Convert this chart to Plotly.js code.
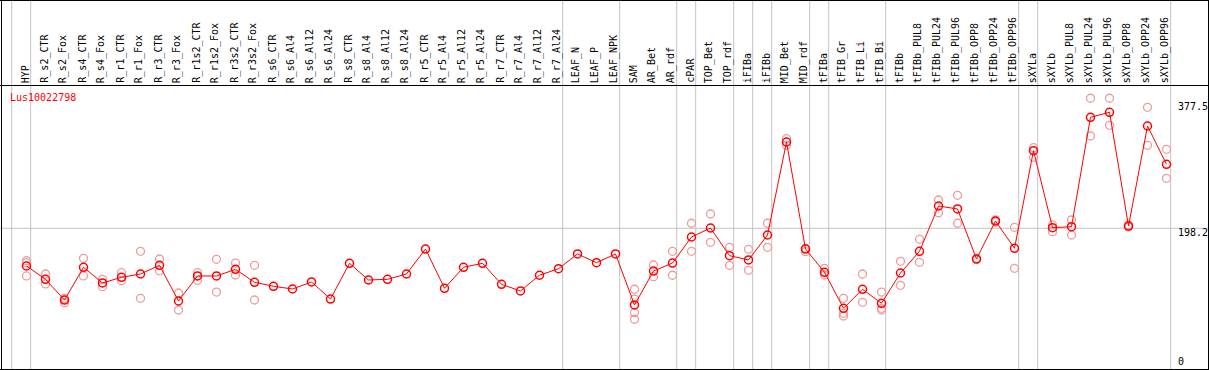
<!DOCTYPE html>
<html>
<head>
<meta charset="utf-8">
<script src="https://cdn.plot.ly/plotly-3.0.1.min.js"></script>
<style>html,body{margin:0;padding:0;background:#fff;}#chart{width:1209px;height:370px;}</style>
</head>
<body>
<div id="chart"></div>
<script>
const categories = ["HYP","R_s2_CTR","R_s2_Fox","R_s4_CTR","R_s4_Fox","R_r1_CTR","R_r1_Fox","R_r3_CTR","R_r3_Fox","R_r1s2_CTR","R_r1s2_Fox","R_r3s2_CTR","R_r3s2_Fox","R_s6_CTR","R_s6_Al4","R_s6_Al12","R_s6_Al24","R_s8_CTR","R_s8_Al4","R_s8_Al12","R_s8_Al24","R_r5_CTR","R_r5_Al4","R_r5_Al12","R_r5_Al24","R_r7_CTR","R_r7_Al4","R_r7_Al12","R_r7_Al24","LEAF_N","LEAF_P","LEAF_NPK","SAM","AR_Bet","AR_rdf","cPAR","TOP_Bet","TOP_rdf","iFIBa","iFIBb","MID_Bet","MID_rdf","tFIBa","tFIB_Gr","tFIB_Li","tFIB_Bi","tFIBb","tFIBb_PUL8","tFIBb_PUL24","tFIBb_PUL96","tFIBb_OPP8","tFIBb_OPP24","tFIBb_OPP96","sXYLa","sXYLb","sXYLb_PUL8","sXYLb_PUL24","sXYLb_PUL96","sXYLb_OPP8","sXYLb_OPP24","sXYLb_OPP96"];

const meanValues = [144.9,126.1,96.8,143.1,120.9,128.9,133.6,145.9,95.4,130.8,130.8,140.2,121.9,116.2,112.4,122.3,98.2,148.7,125.1,126.1,133.6,168.9,113.4,143.1,148.7,119.0,109.6,131.8,141.1,161.9,149.6,161.9,89.8,137.8,149.1,185.9,198.6,159.5,153.4,188.7,320.2,168.9,136.0,85.1,112.0,92.2,135.0,165.7,229.7,225.5,154.8,208.5,169.9,307.9,199.0,200.5,355.1,362.2,201.4,342.8,288.7];

const rep1 = [152.4,133.6,99.2,155.8,126.1,135.4,165.7,154.8,106.7,135.4,154.4,149.1,145.9,null,null,null,null,null,null,null,null,null,null,null,null,null,null,null,null,null,null,null,112.0,146.3,165.7,205.3,218.4,171.3,168.5,205.3,324.9,169.9,141.6,99.2,133.6,108.1,151.5,182.6,238.2,244.8,155.8,209.9,199.6,312.1,202.9,209.9,382.0,382.0,202.9,369.2,309.9];
const rep2 = [149.6,119.5,93.0,130.8,115.6,124.1,99.2,138.3,82.7,124.7,108.1,132.2,96.8,null,null,null,null,null,null,null,null,null,null,null,null,null,null,null,null,null,null,null,98.2,129.8,131.8,165.7,178.4,145.9,138.8,171.3,315.5,165.1,132.2,78.0,93.6,85.1,117.6,150.1,220.2,205.3,153.8,207.1,141.6,298.6,193.4,188.7,328.7,343.8,200.0,315.5,268.9];
const rep3 = [130.8,null,null,null,null,null,null,null,null,null,null,null,null,null,null,null,null,null,null,null,null,null,null,null,null,null,null,null,null,null,null,null,78.9,null,null,null,null,null,null,null,null,null,null,74.2,null,82.7,null,null,null,null,null,null,null,null,null,null,null,null,null,null,null];
const rep4 = [null,null,null,null,null,null,null,null,null,null,null,null,null,null,null,null,null,null,null,null,null,null,null,null,null,null,null,null,null,null,null,null,69.6,null,null,null,null,null,null,null,null,null,null,null,null,null,null,null,null,null,null,null,null,null,null,null,null,null,null,null,null];

const groupEnds = [-1,0,28,31,34,35,37,38,39,41,42,45,52,53,60];
const gridValue = 198.2;
const axisLabels = ["377.5","198.2","0"];
const axisLabelValues = [377.5,198.2,0];
const geneName = "Lus10022798";

const W = 1209, H = 370;
const pxPerUnit = 0.7074, zeroPx = 368.5;
const step = 19, firstPx = 26.5;
const xr0 = -firstPx/step, xr1 = xr0 + W/step;
const yr0 = -(H-zeroPx)/pxPerUnit, yr1 = zeroPx/pxPerUnit;
const idx = categories.map((c,i)=>i);
const py = p => 1 - p/H;
const px = p => p/W;

const pale = '#ec9c9c';
const traces = [];
[rep1,rep2,rep3,rep4].forEach(r=>{
  traces.push({x: idx, y: r, type:'scatter', mode:'markers', hoverinfo:'skip',
    marker:{symbol:'circle-open', size:8, color:pale, line:{width:1.3, color:pale}}});
});
traces.push({x: idx, y: meanValues, type:'scatter', mode:'lines+markers', hoverinfo:'skip',
  line:{color:'#ff0000', width:1},
  marker:{symbol:'circle-open', size:8, color:'#ff0000', line:{width:1.5, color:'#ff0000'}}});

const shapes = [];
shapes.push({type:'line', xref:'paper', yref:'y', x0:0, x1:1, y0:gridValue, y1:gridValue, line:{color:'#c3c3c3', width:1}, layer:'below'});
groupEnds.forEach(g=>{
  const xv = g + 4.2/step;
  shapes.push({type:'line', xref:'x', yref:'paper', x0:xv, x1:xv, y0:0, y1:1, line:{color:'#c3c3c3', width:1}, layer:'below'});
});
shapes.push({type:'line', xref:'paper', yref:'paper', x0:0, x1:1, y0:py(0.5), y1:py(0.5), line:{color:'#000', width:1}});
shapes.push({type:'line', xref:'paper', yref:'paper', x0:0, x1:1, y0:py(85.5), y1:py(85.5), line:{color:'#000', width:1}});
shapes.push({type:'line', xref:'paper', yref:'paper', x0:px(1.5), x1:px(1.5), y0:0, y1:1, line:{color:'#000', width:1}});
shapes.push({type:'line', xref:'paper', yref:'paper', x0:px(1208.5), x1:px(1208.5), y0:0, y1:1, line:{color:'#000', width:1}});
shapes.push({type:'line', xref:'paper', yref:'paper', x0:0, x1:1, y0:py(369.5), y1:py(369.5), line:{color:'#000', width:1}});

const font = {family:'DejaVu Sans Mono', size:10, color:'#000'};
const annotations = categories.map((c,i)=>({
  x: i - 0.07, xref:'x', y: py(84), yref:'paper', text:c, textangle:-90,
  showarrow:false, xanchor:'center', yanchor:'bottom', font:font, borderpad:0
}));
annotations.push({x:px(9), xref:'paper', y:py(97), yref:'paper', text:geneName, showarrow:false,
  xanchor:'left', yanchor:'middle', font:{family:'DejaVu Sans Mono', size:10, color:'#ff0000'}, borderpad:0});
const labelCenters = [107, 232, 361];
axisLabels.forEach((t,k)=>{
  annotations.push({x:px(1177), xref:'paper', y:py(labelCenters[k]), yref:'paper', text:t, showarrow:false,
    xanchor:'left', yanchor:'middle', font:font, borderpad:0});
});

const layout = {
  width:W, height:H, margin:{l:0,r:0,t:0,b:0}, showlegend:false,
  paper_bgcolor:'#fff', plot_bgcolor:'#fff',
  xaxis:{range:[xr0,xr1], visible:false, fixedrange:true},
  yaxis:{range:[yr0,yr1], visible:false, fixedrange:true},
  shapes:shapes, annotations:annotations
};
Plotly.newPlot('chart', traces, layout, {staticPlot:true, displayModeBar:false});
</script>
</body>
</html>
